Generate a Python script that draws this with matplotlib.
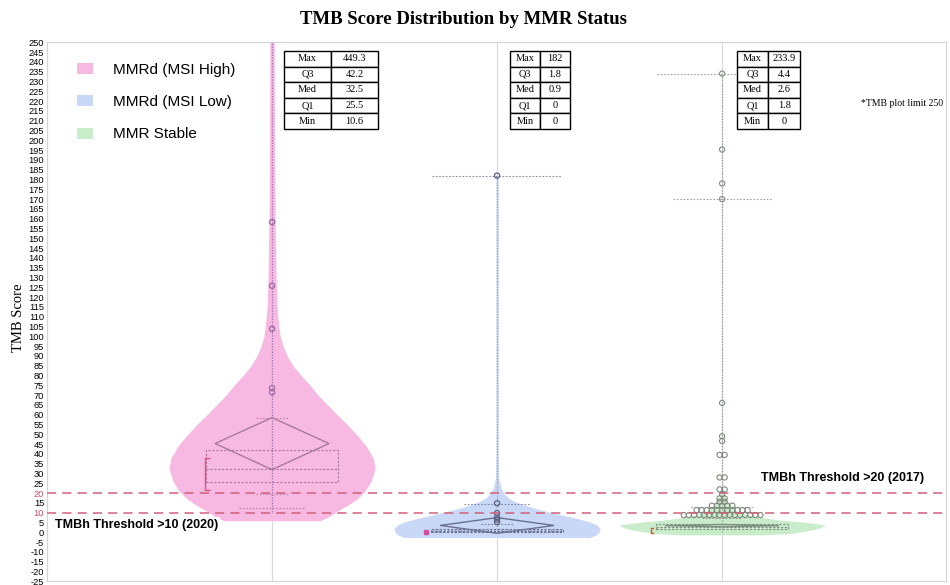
import numpy as np
import matplotlib
matplotlib.use("Agg")
import matplotlib.pyplot as plt
from matplotlib.patches import Patch, Polygon

plt.rcParams["axes.unicode_minus"] = False
plt.rcParams["hatch.color"] = "#7a80a0"
plt.rcParams["hatch.linewidth"] = 0.5

# ---- data ----
groups = ["MMRd (MSI High)", "MMRd (MSI Low)", "MMR Stable"]
colors = ["#f7b8e2", "#c8d8f6", "#c9eccb"]
positions = [0, 1, 2]

stat_names = ["Max", "Q3", "Med", "Q1", "Min"]
max_vals = ["449.3", "182", "233.9"]
q3_vals = [42.2, 1.8, 4.4]
med_vals = [32.5, 0.9, 2.6]
q1_vals = [25.5, 0, 1.8]
min_vals = [10.6, 0, 0]

# mean diamonds (mean, lower ci, upper ci)
means = [45.3, 3.5, 3.4]
ci_low = [32.0, -0.5, 2.8]
ci_high = [58.5, 7.5, 4.0]

# violin outlines: value -> half width (x units)
pink_y = [5.9, 8, 10.7, 14, 17, 21, 26, 32.5, 38, 44, 49, 54.5, 60, 64.7, 70, 75, 80, 85,
          90, 95, 100, 105, 115, 129, 163, 200, 260]
pink_w = [0.213, 0.253, 0.289, 0.338, 0.378, 0.413, 0.44, 0.458, 0.449, 0.418, 0.382, 0.338,
          0.289, 0.249, 0.204, 0.169, 0.129, 0.093, 0.067, 0.049, 0.036, 0.030, 0.022, 0.018,
          0.013, 0.011, 0.009]
blue_y = [-2.7, -1.4, 0, 2, 4, 5.6, 7.2, 8.8, 10.5, 12.2, 14, 15.6, 17.3, 19, 22.4, 27.5, 40, 182]
blue_w = [0.41, 0.44, 0.453, 0.458, 0.44, 0.404, 0.351, 0.289, 0.227, 0.169, 0.12, 0.08,
          0.053, 0.036, 0.018, 0.007, 0.005, 0.005]
green_y = [-1.3, -0.5, 1.2, 2.5, 3.7, 5, 6.3, 7.5, 8.8, 10, 11.3, 13, 14.7, 16.5, 18.3, 21, 25]
green_w = [0.18, 0.31, 0.40, 0.44, 0.458, 0.378, 0.253, 0.178, 0.12, 0.084, 0.058, 0.04,
           0.031, 0.02, 0.012, 0.007, 0.003]

# outlier points
pink_out = [71.4, 73.6, 103.8, 125.8, 158.3]
blue_out = [5.2, 6.5, 7.5, 9.8, 14.8, 182]
green_vals = [8.8, 11.3, 13.6, 15.6, 17.3, 19.5, 21.9, 28, 39.5, 46.6, 49, 66, 170, 178, 195.3, 234]
green_cnt = [16, 11, 5, 2, 2, 1, 2, 2, 2, 1, 1, 1, 1, 1, 1, 1]

# quantile caps (value, half width)
pink_caps = [(58.5, 0.07), (19.3, 0.07), (12.2, 0.147)]
blue_caps = [(14.6, 0.147), (4.2, 0.07), (182, 0.29)]
green_caps = [(233.9, 0.29), (170, 0.22), (12.7, 0.14), (7.5, 0.09)]

thresholds = [10, 20]

# ---- figure ----
fig = plt.figure(figsize=(9.5, 5.85), dpi=100)
ax = fig.add_axes([0.0495, 0.0063, 0.9463, 0.9214])
ax.set_xlim(-1.0, 2.995)
ax.set_ylim(-25, 250)

for p in positions:
    ax.axvline(p, color="#d9d9d9", lw=0.8, zorder=0)

# violins
for p, ys, ws, c in zip(positions, [pink_y, blue_y, green_y], [pink_w, blue_w, green_w], colors):
    ys = np.array(ys)
    ws = np.array(ws)
    ax.fill_betweenx(ys, p - ws, p + ws, color=c, lw=0, zorder=1)

# vertical dotted whisker lines
ax.plot([0, 0], [10.6, 260], color="#a070b0", lw=0.9, ls=(0, (1, 1.2)), zorder=3)
ax.plot([1, 1], [0, 182], color="#b8a088", lw=0.9, ls=(0, (1, 1.2)), zorder=3)
ax.plot([2, 2], [0, 233.9], color="#9a9a9a", lw=0.9, ls=(0, (1, 1.2)), zorder=3)

box_colors = ["#a77a9c", "#6a7090", "#7f8f7f"]
bw = 0.293
for i, p in enumerate(positions):
    bc = box_colors[i]
    ax.add_patch(plt.Rectangle((p - bw, q1_vals[i]), 2 * bw, q3_vals[i] - q1_vals[i],
                               fill=False, ec=bc, lw=0.8, ls=(0, (2, 1.5)), zorder=4,
                               hatch="|||||" if i == 1 else None))
    ax.plot([p - bw, p + bw], [med_vals[i]] * 2, color=bc, lw=0.8, ls=(0, (2, 1.5)), zorder=4)
    dw = 0.253
    dia = Polygon([[p - dw, means[i]], [p, ci_high[i]], [p + dw, means[i]], [p, ci_low[i]]],
                  closed=True, fill=False, ec=bc, lw=1.0, zorder=4)
    ax.add_patch(dia)

for caps, p, c in zip([pink_caps, blue_caps, green_caps], positions, box_colors):
    for v, hw in caps:
        ax.plot([p - hw, p + hw], [v, v], color=c, lw=0.8, ls=(0, (1.5, 1.5)), alpha=0.8, zorder=4)

# shortest half brackets
ax.plot([-0.28, -0.3, -0.3, -0.28], [38, 38, 21.5, 21.5], color="#e0507a", lw=1.0, zorder=5)
ax.plot([0.685], [0.4], marker="s", ms=3, color="#d050a0", zorder=5)
ax.plot([1.695, 1.682, 1.682, 1.695], [2.2, 2.2, -0.4, -0.4], color="#d06030", lw=1.0, zorder=5)

# points
ax.scatter([0] * len(pink_out), pink_out, s=14, facecolors="none", edgecolors="#9a6a9a", lw=0.9, zorder=6)
ax.scatter([1] * len(blue_out), blue_out, s=14, facecolors="none", edgecolors="#5a6080", lw=0.9, zorder=6)
gx, gy = [], []
for v, n in zip(green_vals, green_cnt):
    offs = (np.arange(n) - (n - 1) / 2) * 0.0227
    gx.extend(2 + offs)
    gy.extend([v] * n)
ax.scatter(gx, gy, s=14, facecolors="none", edgecolors="#7f8a7f", lw=0.8, zorder=6)

# thresholds
for t in thresholds:
    ax.axhline(t, color="#d0607a", lw=1.1, ls=(0, (6, 4)), zorder=7)

ax.text(-0.965, 3.6, "TMBh Threshold >10 (2020)", fontsize=9, fontweight="bold",
        family="Liberation Sans", va="center", ha="left", zorder=8,
        bbox=dict(facecolor="white", edgecolor="none", pad=1.5))
ax.text(2.173, 27.5, "TMBh Threshold >20 (2017)", fontsize=9, fontweight="bold",
        family="Liberation Sans", va="center", ha="left", zorder=8)
ax.text(2.618, 219, "*TMB plot limit 250", fontsize=7, family="Liberation Serif",
        va="center", ha="left")

# axes styling
ax.set_xticks([])
ax.set_yticks(np.arange(-25, 251, 5))
ax.tick_params(axis="y", length=0, pad=2, labelsize=6.7)
for lab in ax.get_yticklabels():
    lab.set_family("Liberation Sans")
for lab, v in zip(ax.get_yticklabels(), np.arange(-25, 251, 5)):
    if v in thresholds:
        lab.set_color("#c0506a")
for s in ax.spines.values():
    s.set_color("#d4d4d4")
    s.set_linewidth(0.8)

# stat tables
table_boxes = [[0.2636, 0.839, 0.1046, 0.145],
               [0.515, 0.839, 0.0667, 0.145],
               [0.7675, 0.839, 0.070, 0.145]]
for i in range(3):
    cells = [[stat_names[0], max_vals[i]],
             [stat_names[1], f"{q3_vals[i]:g}"],
             [stat_names[2], f"{med_vals[i]:g}"],
             [stat_names[3], f"{q1_vals[i]:g}"],
             [stat_names[4], f"{min_vals[i]:g}"]]
    tb = ax.table(cellText=cells, cellLoc="center", bbox=table_boxes[i], zorder=9)
    tb.auto_set_font_size(False)
    tb.set_fontsize(7.5)
    for cell in tb.get_celld().values():
        cell.set_edgecolor("black")
        cell.set_linewidth(1.0)
        cell.get_text().set_family("Liberation Serif")

# legend
handles = [Patch(facecolor=c, edgecolor="none", label=g) for g, c in zip(groups, colors)]
leg = ax.legend(handles=handles, loc="upper left", bbox_to_anchor=(0.0334, 0.962),
                frameon=False, borderpad=0, borderaxespad=0, handlelength=1.05,
                handleheight=0.75, handletextpad=1.3, labelspacing=1.2,
                prop={"family": "Liberation Sans", "size": 11})

fig.text(0.488, 0.966, "TMB Score Distribution by MMR Status", fontsize=13.5, fontweight="bold",
         family="Liberation Serif", ha="center", va="center")
fig.text(0.019, 0.456, "TMB Score", rotation=90, fontsize=10.5, family="Liberation Serif",
         ha="center", va="center")

fig.savefig("out.png", dpi=100)
